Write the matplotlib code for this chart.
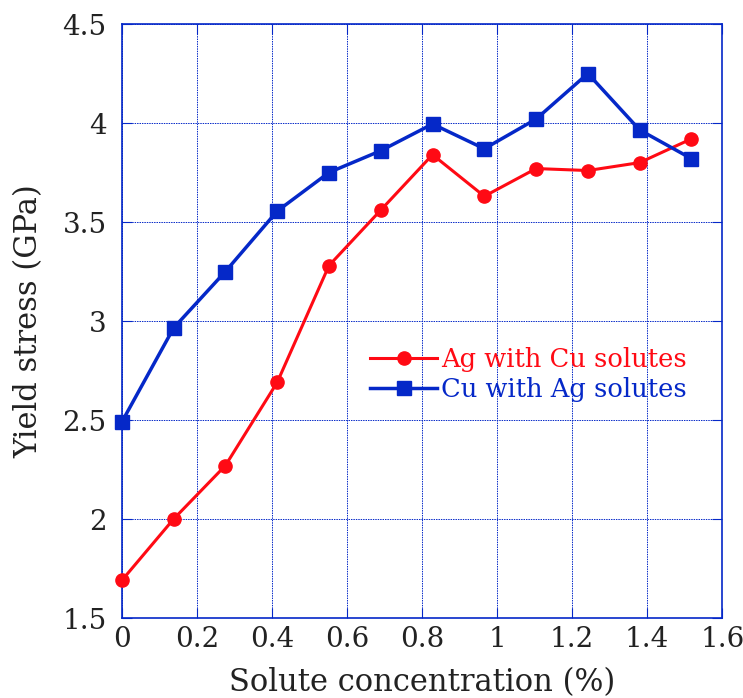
import matplotlib
matplotlib.use("Agg")
import matplotlib.pyplot as plt

# solute concentration (%)
conc = [0, 0.138, 0.276, 0.414, 0.552, 0.69, 0.828, 0.966, 1.104, 1.242, 1.38, 1.518]
# yield stress (GPa)
ag_cu = [1.69, 2.00, 2.27, 2.69, 3.28, 3.56, 3.84, 3.63, 3.77, 3.76, 3.80, 3.92]
cu_ag = [2.49, 2.965, 3.25, 3.555, 3.75, 3.86, 3.995, 3.87, 4.02, 4.25, 3.965, 3.82]

xticks = [0, 0.2, 0.4, 0.6, 0.8, 1, 1.2, 1.4, 1.6]
xlabels = ['0', '0.2', '0.4', '0.6', '0.8', '1', '1.2', '1.4', '1.6']
yticks = [1.5, 2, 2.5, 3, 3.5, 4, 4.5]
ylabels = ['1.5', '2', '2.5', '3', '3.5', '4', '4.5']

red = '#ff0a14'
blue = '#0528c8'

plt.rcParams['font.family'] = 'DejaVu Serif'

fig = plt.figure(figsize=(7.43, 6.98), dpi=100)
ax = fig.add_axes([0.164, 0.1146, 0.808, 0.851])

ax.plot(conc, ag_cu, color=red, lw=2.2, marker='o', ms=9.5, label='Ag with Cu solutes', clip_on=False, zorder=3)
ax.plot(conc, cu_ag, color=blue, lw=2.5, marker='s', ms=9.5, label='Cu with Ag solutes', clip_on=False, zorder=3)

ax.set_xlim(0, 1.6)
ax.set_ylim(1.5, 4.5)
ax.set_xticks(xticks)
ax.set_xticklabels(xlabels)
ax.set_yticks(yticks)
ax.set_yticklabels(ylabels)
ax.grid(True, color=blue, ls=(0, (1.5, 1)), lw=0.7)
ax.tick_params(direction='in', colors=blue, labelcolor='#222222', labelsize=20, length=7, top=True, right=True)
ax.tick_params(axis='y', pad=11)
ax.tick_params(axis='x', pad=6)
for s in ax.spines.values():
    s.set_color(blue)
    s.set_linewidth(1.2)

ax.set_xlabel('Solute concentration (%)', fontsize=22, color='#222222', labelpad=10)
ax.set_ylabel('Yield stress (GPa)', fontsize=22, color='#222222', labelpad=13)

leg = ax.legend(loc='center left', bbox_to_anchor=(0.375, 0.41), frameon=False, fontsize=18.5,
                handlelength=2.6, handletextpad=0.15, labelspacing=0.2)
for t, c in zip(leg.get_texts(), [red, blue]):
    t.set_color(c)

fig.savefig('out.png', dpi=100)
